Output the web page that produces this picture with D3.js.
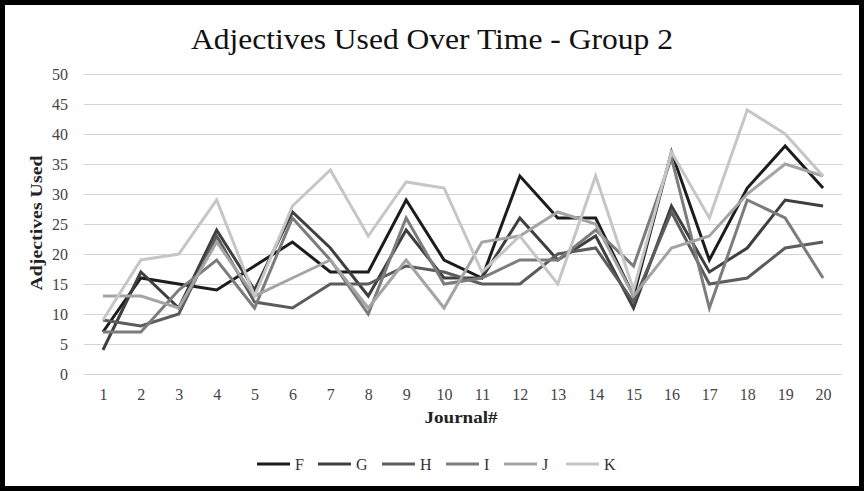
<!DOCTYPE html>
<html>
<head>
<meta charset="utf-8">
<script src="https://cdn.jsdelivr.net/npm/d3@7"></script>
<style>
  body { margin: 0; background: #fff; }
  svg { display: block; }
  text { font-family: "Liberation Serif", "DejaVu Serif", serif; }
</style>
</head>
<body>
<div id="chart"></div>
<script>
// journal numbers along the x axis
const journals = d3.range(1, 21);
const yTicks = [0, 5, 10, 15, 20, 25, 30, 35, 40, 45, 50];

// adjectives used per journal
const seriesF = [7, 16, 15, 14, 18, 22, 17, 17, 29, 19, 16, 33, 26, 26, 13, 37, 19, 31, 38, 31];
const seriesG = [4, 17, 11, 24, 14, 27, 21, 13, 24, 16, 16, 26, 19, 23, 11, 28, 17, 21, 29, 28];
const seriesH = [9, 8, 10, 23, 12, 11, 15, 15, 18, 17, 15, 15, 20, 21, 12, 27, 15, 16, 21, 22];
const seriesI = [7, 7, 14, 19, 11, 26, 19, 10, 26, 15, 16, 19, 19, 24, 18, 36, 11, 29, 26, 16];
const seriesJ = [13, 13, 11, 22, 13, 16, 19, 11, 19, 11, 22, 23, 27, 25, 13, 21, 23, 30, 35, 33];
const seriesK = [9, 19, 20, 29, 13, 28, 34, 23, 32, 31, 17, 23, 15, 33, 14, 37, 26, 44, 40, 33];

const names = ["F", "G", "H", "I", "J", "K"];
const colors = ["#1c1c1c", "#3f3f3f", "#5c5c5c", "#7c7c7c", "#a4a4a4", "#c6c6c6"];
const series = [seriesF, seriesG, seriesH, seriesI, seriesJ, seriesK];

const W = 864, H = 491;
const margin = {top: 74, right: 22, bottom: 117, left: 84};
const width = W - margin.left - margin.right;
const height = H - margin.top - margin.bottom;

const svg = d3.select("#chart").append("svg")
    .attr("width", W)
    .attr("height", H);

// frame
svg.append("rect")
    .attr("x", 2.5).attr("y", 2.5)
    .attr("width", W - 5).attr("height", H - 5)
    .attr("fill", "#fff")
    .attr("stroke", "#000")
    .attr("stroke-width", 5);

svg.append("text")
    .attr("x", 432)
    .attr("y", 49)
    .attr("text-anchor", "middle")
    .attr("font-size", 29)
    .attr("fill", "#111")
    .attr("textLength", 482)
    .attr("lengthAdjust", "spacingAndGlyphs")
    .text("Adjectives Used Over Time - Group 2");

const g = svg.append("g")
    .attr("transform", `translate(${margin.left},${margin.top})`);

const x = d3.scalePoint()
    .domain(journals)
    .range([0, width])
    .padding(0.5);

const y = d3.scaleLinear()
    .domain([0, 50])
    .range([height, 0]);

// gridlines + y labels
const yAxis = g.append("g")
    .call(d3.axisLeft(y).tickValues(yTicks).tickSize(-width).tickPadding(16));
yAxis.select(".domain").remove();
yAxis.selectAll(".tick line").attr("stroke", "#d4d4d4").attr("stroke-width", 1.2);
yAxis.selectAll(".tick text")
    .attr("font-family", "Liberation Serif, serif")
    .attr("font-size", 16)
    .attr("fill", "#444");

// x labels
const xAxis = g.append("g")
    .attr("transform", `translate(0,${height})`)
    .call(d3.axisBottom(x).tickSize(0).tickPadding(15));
xAxis.select(".domain").remove();
xAxis.selectAll(".tick text")
    .attr("font-family", "Liberation Serif, serif")
    .attr("font-size", 16)
    .attr("fill", "#444");

const line = d3.line()
    .x((d, i) => x(journals[i]))
    .y(d => y(d));

g.selectAll(".series")
    .data(series)
    .join("path")
    .attr("class", "series")
    .attr("d", d => line(d))
    .attr("fill", "none")
    .attr("stroke", (d, i) => colors[i])
    .attr("stroke-width", 3)
    .attr("stroke-linejoin", "miter");

// axis titles
svg.append("text")
    .attr("x", 461)
    .attr("y", 423)
    .attr("text-anchor", "middle")
    .attr("font-size", 16)
    .attr("font-weight", "bold")
    .attr("fill", "#222")
    .attr("textLength", 73)
    .attr("lengthAdjust", "spacingAndGlyphs")
    .text("Journal#");

svg.append("text")
    .attr("transform", "translate(42,223) rotate(-90)")
    .attr("text-anchor", "middle")
    .attr("font-size", 16)
    .attr("font-weight", "bold")
    .attr("fill", "#222")
    .attr("textLength", 135)
    .attr("lengthAdjust", "spacingAndGlyphs")
    .text("Adjectives Used");

// legend
const legendX = [257, 318, 382, 446, 504, 566];
const legend = svg.append("g").attr("transform", "translate(0,464)");
names.forEach((n, i) => {
  legend.append("line")
      .attr("x1", legendX[i]).attr("x2", legendX[i] + 33)
      .attr("y1", 0).attr("y2", 0)
      .attr("stroke", colors[i])
      .attr("stroke-width", 3);
  legend.append("text")
      .attr("x", legendX[i] + 38)
      .attr("y", 5.5)
      .attr("font-size", 16)
      .attr("fill", "#333")
      .text(n);
});
</script>
</body>
</html>
